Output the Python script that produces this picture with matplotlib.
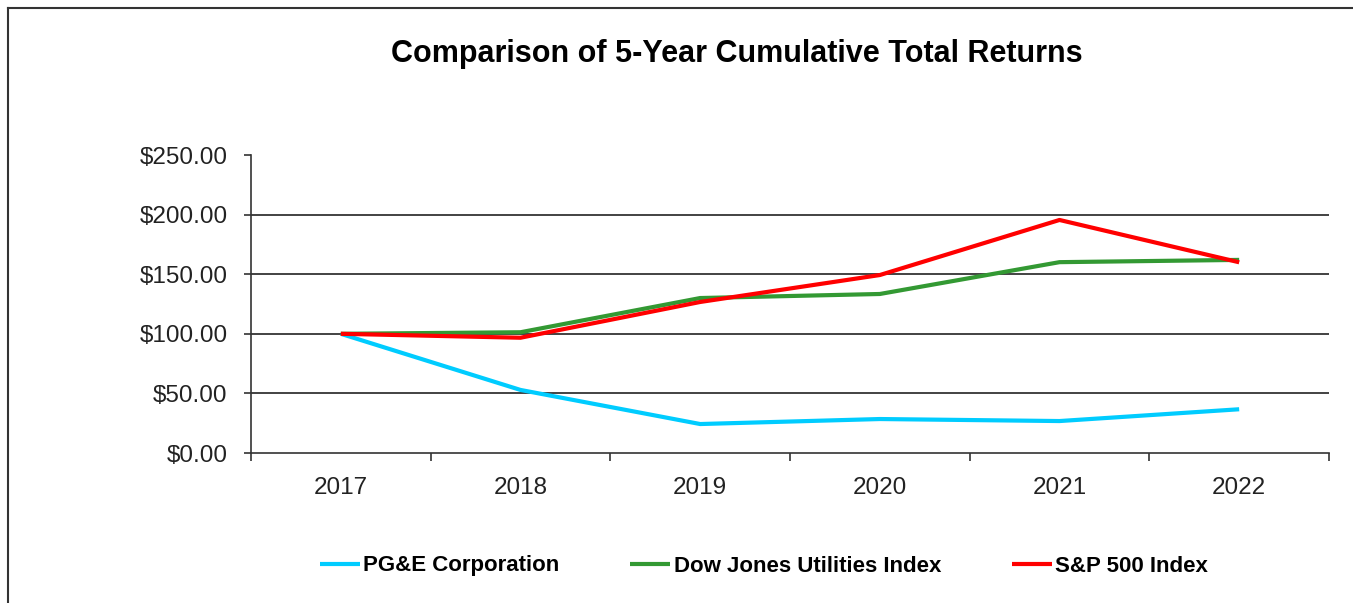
import matplotlib
matplotlib.use("Agg")
import matplotlib.pyplot as plt
from matplotlib.lines import Line2D
from matplotlib.ticker import FuncFormatter, FixedLocator

years = ["2017", "2018", "2019", "2020", "2021", "2022"]
pge = [100.0, 52.9, 24.3, 28.5, 26.8, 36.7]
dju = [100.0, 101.3, 130.0, 133.4, 160.1, 162.0]
sp500 = [100.0, 96.7, 126.7, 149.3, 195.5, 160.0]

series_names = ["PG&E Corporation", "Dow Jones Utilities Index", "S&P 500 Index"]
colors = ["#00CCFF", "#339933", "#FF0000"]

plt.rcParams['font.family'] = ['Liberation Sans', 'DejaVu Sans']

W, H = 1353, 603
fig = plt.figure(figsize=(W / 100, H / 100), dpi=100)
fig.patch.set_facecolor("white")

# figure border (left and top visible)
fig.add_artist(Line2D([8 / W, 8 / W], [0, 1 - 8 / H], transform=fig.transFigure,
                      color="#333333", lw=1.5))
fig.add_artist(Line2D([8 / W, 1], [1 - 8 / H, 1 - 8 / H], transform=fig.transFigure,
                      color="#333333", lw=1.5))

left, right = 251 / W, 1329 / W
bottom, top = 1 - 453 / H, 1 - 155 / H
ax = fig.add_axes([left, bottom, right - left, top - bottom])

x = list(range(len(years)))
for vals, name, c in zip([pge, dju, sp500], series_names, colors):
    ax.plot(x, vals, color=c, lw=3, label=name, solid_capstyle="butt", zorder=3)

ax.set_xlim(-0.5, len(years) - 0.5)
ax.set_ylim(0, 250)
ax.set_yticks([0, 50, 100, 150, 200, 250])
ax.yaxis.set_major_formatter(FuncFormatter(lambda v, p: f"${v:,.2f}"))
ax.set_xticks(x)
ax.set_xticklabels(years)
ax.xaxis.set_minor_locator(FixedLocator([i - 0.5 for i in range(len(years) + 1)]))
ax.tick_params(axis="x", which="major", length=0, pad=17, labelsize=17.5, colors="#222222")
ax.tick_params(axis="x", which="minor", length=6, width=1.2, color="#333333", direction="out")
ax.tick_params(axis="y", length=5, width=1.2, color="#333333", pad=12, labelsize=17.5,
               labelcolor="#222222")

for y in [50, 100, 150, 200]:
    ax.axhline(y, color="#222222", lw=1.2, zorder=1)

for s in ["top", "right"]:
    ax.spines[s].set_visible(False)
for s in ["left", "bottom"]:
    ax.spines[s].set_color("#333333")
    ax.spines[s].set_linewidth(1.2)

fig.text(737 / W, 1 - 54 / H, "Comparison of 5-Year Cumulative Total Returns",
         ha="center", va="center", fontsize=22, fontweight="bold")

leg = fig.legend(loc="center", bbox_to_anchor=(764 / W, 1 - 566 / H), ncol=3,
                 frameon=False, handlelength=1.8, handletextpad=0.15, columnspacing=3.2,
                 prop={"weight": "bold", "size": 16})

fig.savefig("out.png", dpi=100)
